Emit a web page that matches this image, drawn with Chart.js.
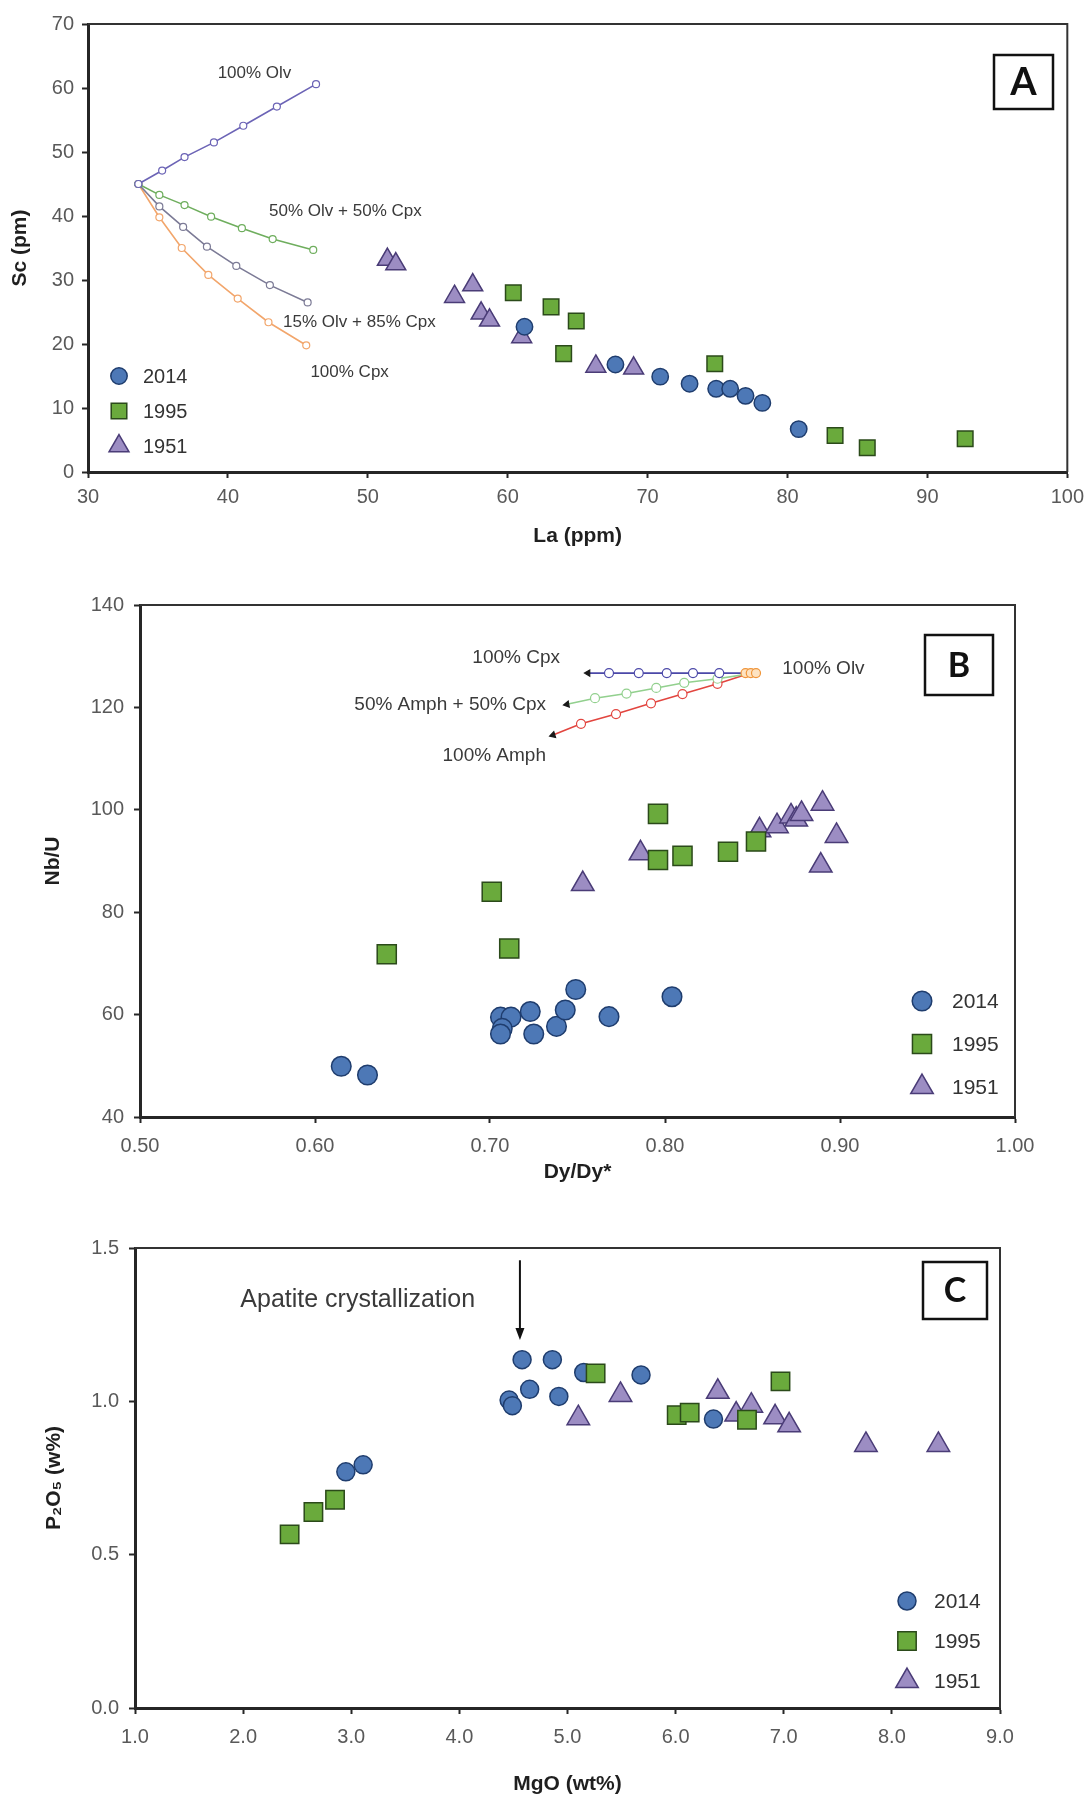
<!DOCTYPE html>
<html>
<head>
<meta charset="utf-8">
<title>Sc vs La, Nb/U vs Dy/Dy*, P2O5 vs MgO</title>
<script src="https://cdn.jsdelivr.net/npm/chart.js"></script>
<style>
  body { margin: 0; background: #fff; }
  #wrap { position: relative; width: 1091px; height: 1800px; }
  canvas { position: absolute; left: 0; }
</style>
</head>
<body>
<div id="wrap">
  <canvas id="chart-a" width="1091" height="580" style="top:0"></canvas>
  <canvas id="chart-b" width="1091" height="610" style="top:580px"></canvas>
  <canvas id="chart-c" width="1091" height="610" style="top:1190px"></canvas>
</div>
<script>
// ---------- Panel A: Sc vs La ----------
const aXTicks = [30, 40, 50, 60, 70, 80, 90, 100];
const aYTicks = [0, 10, 20, 30, 40, 50, 60, 70];
const a2014 = [[61.2, 22.7], [67.7, 16.8], [70.9, 14.9], [73.0, 13.8], [74.9, 13.0], [75.9, 13.0], [77.0, 11.9], [78.2, 10.8], [80.8, 6.7]];
const a1995 = [[60.4, 28.0], [63.1, 25.8], [64.9, 23.6], [64.0, 18.5], [74.8, 16.9], [83.4, 5.7], [85.7, 3.8], [92.7, 5.2]];
const a1951 = [[51.4, 33.2], [52.0, 32.5], [56.2, 27.4], [57.5, 29.2], [58.1, 24.8], [58.7, 23.7], [61.0, 21.1], [66.3, 16.5], [69.0, 16.2]];
// fractional crystallisation paths
const aOlv = [[33.6, 45], [35.3, 47.1], [36.9, 49.2], [39.0, 51.5], [41.1, 54.1], [43.5, 57.1], [46.3, 60.6]];
const aOlvCpx50 = [[33.6, 45], [35.1, 43.3], [36.9, 41.7], [38.8, 39.9], [41.0, 38.1], [43.2, 36.4], [46.1, 34.7]];
const aOlvCpx15 = [[33.6, 45], [35.1, 41.5], [36.8, 38.3], [38.5, 35.2], [40.6, 32.2], [43.0, 29.2], [45.7, 26.5]];
const aCpx = [[33.6, 45], [35.1, 39.8], [36.7, 35.0], [38.6, 30.8], [40.7, 27.1], [42.9, 23.4], [45.6, 19.8]];

// ---------- Panel B: Nb/U vs Dy/Dy* ----------
const bXTicks = [0.5, 0.6, 0.7, 0.8, 0.9, 1.0];
const bYTicks = [40, 60, 80, 100, 120, 140];
const b2014 = [[0.615, 49.9], [0.630, 48.2], [0.706, 59.5], [0.712, 59.5], [0.707, 57.3], [0.706, 56.2], [0.723, 60.6], [0.725, 56.2], [0.738, 57.7], [0.743, 60.9], [0.749, 64.9], [0.768, 59.6], [0.804, 63.5]];
const b1995 = [[0.641, 71.8], [0.701, 84.0], [0.711, 72.9], [0.796, 99.2], [0.796, 90.2], [0.810, 91.0], [0.836, 91.8], [0.852, 93.8]];
const b1951 = [[0.753, 85.5], [0.786, 91.5], [0.854, 96.0], [0.864, 96.8], [0.872, 98.7], [0.875, 98.1], [0.878, 99.2], [0.890, 101.2], [0.898, 94.9], [0.889, 89.1]];
const bCpx = [[0.849, 126.7], [0.831, 126.7], [0.816, 126.7], [0.801, 126.7], [0.785, 126.7], [0.768, 126.7], [0.756, 126.7]];
const bAmphCpx = [[0.849, 126.6], [0.830, 125.6], [0.811, 124.8], [0.795, 123.8], [0.778, 122.7], [0.760, 121.8], [0.744, 120.6]];
const bAmph = [[0.849, 126.7], [0.830, 124.6], [0.810, 122.6], [0.792, 120.8], [0.772, 118.7], [0.752, 116.8], [0.736, 114.6]];
const bOlv = [[0.846, 126.7], [0.849, 126.7], [0.852, 126.7]];

// ---------- Panel C: P2O5 vs MgO ----------
const cXTicks = [1, 2, 3, 4, 5, 6, 7, 8, 9];
const cYTicks = [0, 0.5, 1.0, 1.5];
const c2014 = [[2.95, 0.770], [3.11, 0.793], [4.46, 1.004], [4.49, 0.986], [4.65, 1.039], [4.58, 1.136], [4.86, 1.136], [4.92, 1.016], [5.15, 1.094], [5.68, 1.086], [6.35, 0.942]];
const c1995 = [[2.43, 0.566], [2.65, 0.639], [2.85, 0.679], [5.26, 1.091], [6.01, 0.955], [6.13, 0.963], [6.66, 0.940], [6.97, 1.065]];
const c1951 = [[5.10, 0.945], [5.49, 1.021], [6.39, 1.031], [6.56, 0.957], [6.70, 0.986], [6.92, 0.948], [7.05, 0.922], [7.76, 0.858], [8.43, 0.858]];

Chart.defaults.font.family = '"Liberation Sans", Arial, sans-serif';
Chart.defaults.color = '#555';

const pts = arr => arr.map(([x, y]) => ({ x, y }));

const SAMPLE_STYLE = {
  '2014': { pointStyle: 'circle', bg: '#4d78b6', border: '#1f3d6e' },
  '1995': { pointStyle: 'rect', bg: '#6aaa3c', border: '#2b4a1a' },
  '1951': { pointStyle: 'triangle', bg: '#9c8dc3', border: '#4a3c77' }
};
const LEGEND_ORDER = ['2014', '1995', '1951'];

function sampleSet(label, data, radius, order) {
  const s = SAMPLE_STYLE[label];
  return {
    label, data: pts(data), order,
    pointStyle: s.pointStyle, pointRadius: radius, pointHoverRadius: radius,
    backgroundColor: s.bg, borderColor: s.border, borderWidth: 1.5
  };
}

function pathSet(label, data, color, extra) {
  return Object.assign({
    label, data: pts(data), order: 10, showLine: true,
    borderColor: color, borderWidth: 1.6,
    pointRadius: 3.5, pointBackgroundColor: '#fff', pointBorderColor: color, pointBorderWidth: 1.2
  }, extra || {});
}

// B paths: hidden start, open circles, small arrow head at the far end
function arrowPath(label, data, color, rot) {
  const last = data.length - 1;
  return pathSet(label, data, color, {
    pointStyle: c => c.dataIndex === last ? 'triangle' : 'circle',
    rotation: c => c.dataIndex === last ? rot : 0,
    pointRadius: c => c.dataIndex === 0 ? 0 : (c.dataIndex === last ? 3.5 : 4.5),
    pointBackgroundColor: c => c.dataIndex === last ? '#1a1a1a' : '#fff',
    pointBorderColor: c => c.dataIndex === last ? '#1a1a1a' : color
  });
}

function linearAxis(tickList, cfg) {
  return {
    type: 'linear',
    min: tickList[0],
    max: tickList[tickList.length - 1],
    afterBuildTicks: s => { s.ticks = tickList.map(value => ({ value })); },
    afterFit: cfg.fit,
    border: { display: true, color: '#262626', width: 3 },
    grid: { drawOnChartArea: false, drawTicks: true, tickLength: 6, color: '#262626', tickColor: '#262626', tickWidth: 2 },
    ticks: { padding: cfg.tickPad, color: '#595959', font: { size: 20 }, autoSkip: false, maxRotation: 0, callback: cfg.fmt },
    title: { display: true, text: cfg.title, color: '#1f1f1f', font: { size: 21, weight: 'bold' }, padding: cfg.titlePad }
  };
}

function drawMarker(ctx, style, x, y, r) {
  ctx.beginPath();
  if (style === 'rect') {
    const s = r * Math.SQRT1_2;
    ctx.rect(x - s, y - s, 2 * s, 2 * s);
  } else if (style === 'triangle') {
    ctx.moveTo(x, y - r);
    ctx.lineTo(x + r * 0.866, y + r * 0.5);
    ctx.lineTo(x - r * 0.866, y + r * 0.5);
    ctx.closePath();
  } else {
    ctx.arc(x, y, r, 0, Math.PI * 2);
  }
  ctx.fill();
  ctx.stroke();
}

// frame, path labels, panel letter and the sample key
const panelDecor = {
  id: 'panelDecor',
  afterDatasetsDraw(chart, args, opts) {
    const { ctx, chartArea: a } = chart;
    const sx = chart.scales.x, sy = chart.scales.y;
    ctx.save();

    ctx.strokeStyle = '#333';
    ctx.lineWidth = 2;
    ctx.beginPath();
    ctx.moveTo(a.left, a.top);
    ctx.lineTo(a.right, a.top);
    ctx.lineTo(a.right, a.bottom);
    ctx.stroke();

    ctx.textBaseline = 'middle';
    ctx.fillStyle = '#3a3a3a';
    ctx.font = opts.noteFont;
    (opts.notes || []).forEach(n => {
      ctx.textAlign = n.align || 'center';
      ctx.fillText(n.text, sx.getPixelForValue(n.x), sy.getPixelForValue(n.y));
    });

    if (opts.arrow) {
      const px = sx.getPixelForValue(opts.arrow.x);
      const y0 = sy.getPixelForValue(opts.arrow.from);
      const y1 = sy.getPixelForValue(opts.arrow.to);
      ctx.strokeStyle = '#111';
      ctx.fillStyle = '#111';
      ctx.lineWidth = 2;
      ctx.beginPath();
      ctx.moveTo(px, y0);
      ctx.lineTo(px, y1 - 10);
      ctx.stroke();
      ctx.beginPath();
      ctx.moveTo(px - 4.5, y1 - 12);
      ctx.lineTo(px + 4.5, y1 - 12);
      ctx.lineTo(px, y1);
      ctx.closePath();
      ctx.fill();
    }

    const b = opts.letter;
    ctx.fillStyle = '#fff';
    ctx.fillRect(b.x, b.y, b.w, b.h);
    ctx.strokeStyle = '#111';
    ctx.lineWidth = 2.5;
    ctx.strokeRect(b.x, b.y, b.w, b.h);
    ctx.fillStyle = '#111';
    ctx.textAlign = 'center';
    ctx.font = 'bold ' + b.size + 'px Lato, "Open Sans", sans-serif';
    ctx.fillText(b.text, b.x + b.w / 2, b.y + b.h / 2 + 1);

    const k = opts.key;
    LEGEND_ORDER.forEach((label, i) => {
      const ds = chart.data.datasets.find(d => d.label === label);
      const y = k.y + i * k.gap;
      ctx.fillStyle = ds.backgroundColor;
      ctx.strokeStyle = ds.borderColor;
      ctx.lineWidth = 1.5;
      drawMarker(ctx, ds.pointStyle, k.x, y, ds.pointRadius);
      ctx.fillStyle = '#333';
      ctx.textAlign = 'left';
      ctx.font = k.size + 'px "Liberation Sans", Arial, sans-serif';
      ctx.fillText(label, k.textX, y + 1);
    });
    ctx.restore();
  }
};

function makeChart(id, datasets, scales, padding, decor) {
  return new Chart(document.getElementById(id), {
    type: 'scatter',
    data: { datasets },
    plugins: [panelDecor],
    options: {
      responsive: false,
      animation: false,
      devicePixelRatio: 1,
      layout: { padding },
      scales,
      plugins: { legend: { display: false }, tooltip: { enabled: false }, panelDecor: decor }
    }
  });
}

const one = v => v.toFixed(1);
const two = v => v.toFixed(2);
const int = v => String(v);

// Panel A
makeChart('chart-a', [
  sampleSet('1995', a1995, 11, 0),
  sampleSet('2014', a2014, 8.2, 1),
  sampleSet('1951', a1951, 11.5, 2),
  pathSet('100% Olv', aOlv, '#6c64b6'),
  pathSet('50% Olv + 50% Cpx', aOlvCpx50, '#6fae5e'),
  pathSet('15% Olv + 85% Cpx', aOlvCpx15, '#7c7b96'),
  pathSet('100% Cpx', aCpx, '#f2a66c')
], {
  x: linearAxis(aXTicks, { title: 'La (ppm)', fmt: int, tickPad: 7, titlePad: { bottom: 31 }, fit: s => { s.height = 108; } }),
  y: linearAxis(aYTicks, { title: 'Sc (pm)', fmt: int, tickPad: 8, titlePad: { top: 8 }, fit: s => { s.width = 88; } })
}, { top: 24, right: 20, left: 0, bottom: 0 }, {
  noteFont: '17px "Liberation Sans", Arial, sans-serif',
  notes: [
    { text: '100% Olv', x: 41.9, y: 62.3 },
    { text: '50% Olv + 50% Cpx', x: 48.4, y: 40.7 },
    { text: '15% Olv + 85% Cpx', x: 49.4, y: 23.4 },
    { text: '100% Cpx', x: 48.7, y: 15.5 }
  ],
  letter: { text: 'A', x: 994, y: 55, w: 59, h: 54, size: 38 },
  key: { x: 119, y: 376, gap: 35, textX: 143, size: 20 }
});

// Panel B
makeChart('chart-b', [
  sampleSet('1995', b1995, 13.5, 0),
  sampleSet('2014', b2014, 9.8, 1),
  sampleSet('1951', b1951, 13, 2),
  pathSet('100% Olv', bOlv, '#f0953a', { pointRadius: 4.5, pointBackgroundColor: '#fde3c2', order: 9 }),
  arrowPath('100% Cpx', bCpx, '#4b48a8', 270),
  arrowPath('50% Amph + 50% Cpx', bAmphCpx, '#92d08e', 260),
  arrowPath('100% Amph', bAmph, '#e2453f', 253)
], {
  x: linearAxis(bXTicks, { title: 'Dy/Dy*', fmt: two, tickPad: 11, titlePad: { bottom: 5 }, fit: s => { s.height = 73; } }),
  y: linearAxis(bYTicks, { title: 'Nb/U', fmt: int, tickPad: 10, titlePad: { top: 41 }, fit: s => { s.width = 140; } })
}, { top: 25, right: 76, left: 0, bottom: 0 }, {
  noteFont: '19px "Liberation Sans", Arial, sans-serif',
  notes: [
    { text: '100% Cpx', x: 0.740, y: 129.6, align: 'right' },
    { text: '50% Amph + 50% Cpx', x: 0.732, y: 120.5, align: 'right' },
    { text: '100% Amph', x: 0.732, y: 110.5, align: 'right' },
    { text: '100% Olv', x: 0.867, y: 127.6, align: 'left' }
  ],
  letter: { text: 'B', x: 925, y: 55, w: 68, h: 60, size: 34 },
  key: { x: 922, y: 421, gap: 43, textX: 952, size: 21 }
});

// Panel C
makeChart('chart-c', [
  sampleSet('1995', c1995, 13, 0),
  sampleSet('2014', c2014, 9, 1),
  sampleSet('1951', c1951, 13, 2)
], {
  x: linearAxis(cXTicks, { title: 'MgO (wt%)', fmt: one, tickPad: 11, titlePad: { bottom: 3 }, fit: s => { s.height = 92; } }),
  y: linearAxis(cYTicks, { title: 'P\u2082O\u2085 (w%)', fmt: one, tickPad: 10, titlePad: { top: 42 }, fit: s => { s.width = 135; } })
}, { top: 58, right: 91, left: 0, bottom: 0 }, {
  noteFont: '25px "Liberation Sans", Arial, sans-serif',
  notes: [{ text: 'Apatite crystallization', x: 3.06, y: 1.33 }],
  arrow: { x: 4.56, from: 1.46, to: 1.20 },
  letter: { text: 'C', x: 923, y: 72, w: 64, h: 57, size: 34 },
  key: { x: 907, y: 411, gap: 40, textX: 934, size: 21 }
});
</script>
</body>
</html>
